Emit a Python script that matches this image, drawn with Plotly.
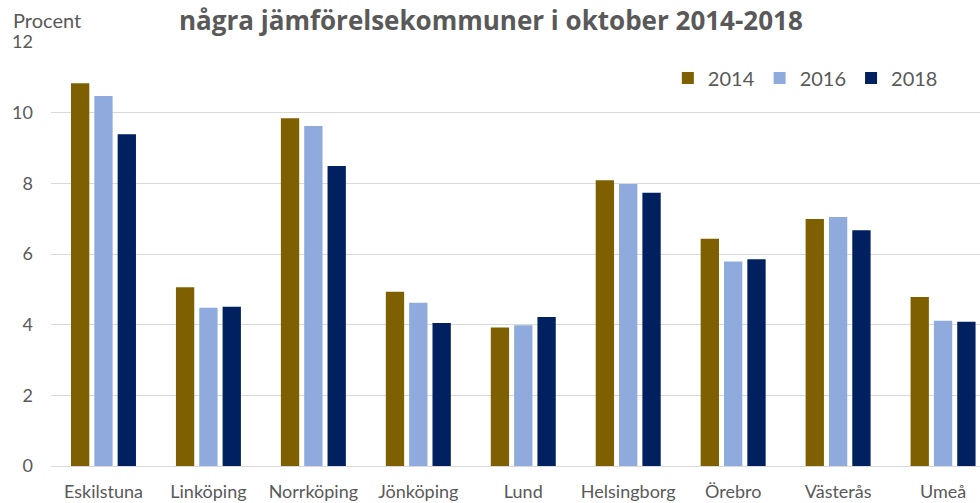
import plotly.graph_objects as go

# Kommuner och andel (procent) per år
kommuner = ["Eskilstuna", "Linköping", "Norrköping", "Jönköping", "Lund",
            "Helsingborg", "Örebro", "Västerås", "Umeå"]
ar = ["2014", "2016", "2018"]
varden_2014 = [10.83, 5.06, 9.84, 4.93, 3.92, 8.09, 6.43, 6.99, 4.78]
varden_2016 = [10.47, 4.48, 9.62, 4.62, 3.98, 7.98, 5.79, 7.05, 4.11]
varden_2018 = [9.39, 4.51, 8.49, 4.05, 4.22, 7.73, 5.85, 6.67, 4.08]
farger = ["#7F6000", "#8FAADC", "#002060"]
y_ticks = [0, 2, 4, 6, 8, 10, 12]

titel = "några jämförelsekommuner i oktober 2014-2018"
enhet = "Procent"

FONT = "Lato, 'Open Sans', sans-serif"
TITEL_FONT = "'Open Sans', Lato, sans-serif"
GRA = "#595959"

fig = go.Figure()
for namn, varden, farg in zip(ar, [varden_2014, varden_2016, varden_2018], farger):
    fig.add_trace(go.Bar(
        x=kommuner, y=varden, name=namn,
        marker=dict(color=farg, line=dict(width=0)),
    ))

fig.update_layout(
    width=980, height=503,
    margin=dict(l=50.5, r=0, t=42, b=36.5),
    paper_bgcolor="white", plot_bgcolor="white",
    barmode="group", bargap=0.333, bargroupgap=0.215,
    font=dict(family=FONT, color=GRA),
    showlegend=True,
    legend=dict(
        orientation="h", x=0.96, xanchor="right", y=0.915, yanchor="middle",
        font=dict(size=20, color=GRA), bgcolor="rgba(0,0,0,0)",
        traceorder="normal",
    ),
    xaxis=dict(
        range=[-0.5, 8.352], showgrid=False, showline=False, zeroline=False,
        tickfont=dict(size=18, color=GRA), ticks="", ticklabelstandoff=13,
    ),
    yaxis=dict(
        range=[0, 12], tickvals=y_ticks, showgrid=True, gridcolor="#D9D9D9",
        gridwidth=1, zeroline=True, zerolinecolor="#D9D9D9", zerolinewidth=1,
        showline=False, tickfont=dict(size=18, color=GRA), ticks="",
        ticklabelstandoff=17,
    ),
    annotations=[
        dict(text=f"<b>{titel}</b>", xref="paper", yref="paper",
             x=(491 - 50.5) / 929.5, xanchor="center",
             y=1 + 42 / 424.5, yanchor="top", showarrow=False,
             font=dict(size=26, color=GRA, family=TITEL_FONT)),
        dict(text=enhet, xref="paper", yref="paper",
             x=-(50.5 - 10) / 929.5, xanchor="left",
             y=1 + (42 - 20) / 424.5, yanchor="middle", showarrow=False,
             font=dict(size=20, color=GRA, family=FONT)),
    ],
)

fig.write_html("out.html")
